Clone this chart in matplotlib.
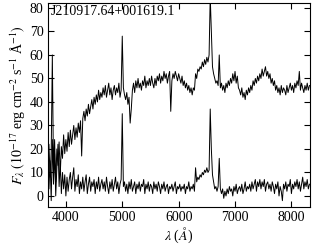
import numpy as np
import matplotlib
matplotlib.use("Agg")
import matplotlib.pyplot as plt

# wavelength grid (Angstrom), 20 A sampling
wave = np.arange(3680, 8321, 20)

# upper spectrum (one row = 200 A)
flux_top = [
    14, 22, 8, 19, 60, 11, 24, 6, 20, 13,
    23, 9, 21, 16, 26, 18, 24, 19, 27, 21,
    28, 22, 26, 30, 24, 29, 25, 31, 27, 32,
    17, 33, 36, 32, 37, 34, 39, 35, 38, 41,
    37, 42, 39, 43, 40, 45, 41, 44, 42, 46,
    43, 47, 42, 45, 48, 43, 46, 41, 45, 47,
    43, 46, 44, 48, 42, 45, 68, 46, 43, 41,
    44, 39, 42, 31, 37, 45, 48, 44, 49, 46,
    50, 46, 48, 45, 49, 47, 51, 46, 49, 47,
    50, 47, 51, 48, 46, 50, 47, 51, 49, 52,
    48, 51, 49, 53, 50, 52, 48, 51, 53, 36,
    49, 52, 50, 53, 51, 49, 52, 50, 48, 51,
    47, 49, 46, 48, 45, 47, 44, 46, 43, 46,
    45, 52, 50, 54, 53, 55, 54, 57, 55, 58,
    56, 59, 57, 60, 85, 70, 55, 52, 50, 48,
    49, 47, 60, 46, 48, 45, 47, 44, 48, 46,
    49, 47, 50, 48, 52, 49, 53, 48, 51, 46,
    45, 43, 46, 42, 44, 41, 45, 43, 46, 44,
    47, 45, 49, 47, 50, 48, 51, 49, 52, 50,
    54, 51, 53, 55, 51, 53, 50, 52, 48, 50,
    47, 49, 45, 47, 44, 46, 43, 47, 44, 46,
    45, 43, 47, 44, 46, 48, 45, 47, 44, 48,
    46, 49, 47, 53, 45, 48, 46, 44, 47, 45,
    48, 45, 47,
]

# lower spectrum
flux_bot = [
    20, 3, 15, -2, 24, 5, 18, 0, 12, 22,
    4, 14, 1, 10, 3, 9, 0, 8, 2, 7,
    10, 3, 8, 12, 2, 7, 4, 9, 1, 6,
    3, 8, 2, 6, 9, 1, 5, 8, 2, 6,
    4, 7, 1, 6, 3, 8, 2, 5, 7, 3,
    6, 2, 8, 4, 1, 6, 3, 7, 2, 5,
    8, 3, 6, 1, 5, 7, 35, 4, 6, 2,
    5, 1, 6, 3, 7, 2, 4, 6, 1, 5,
    3, 6, 2, 5, 4, 7, 1, 5, 3, 6,
    2, 5, 4, 1, 6, 3, 5, 2, 6, 4,
    1, 5, 3, 6, 2, 4, 5, 1, 4, 3,
    5, 2, 4, 6, 1, 4, 3, 5, 2, 4,
    3, 5, 1, 4, 3, 6, 2, 4, 3, 5,
    2, 12, 6, 8, 7, 9, 8, 10, 9, 11,
    10, 12, 10, 11, 37, 20, 9, 6, 3, 4,
    2, 4, 16, 3, 1, 3, -1, 2, 0, 3,
    1, 4, 2, 3, 0, 4, 2, 5, 1, 3,
    4, 2, 5, 1, 3, 6, 2, 4, 3, 5,
    2, 6, 3, 5, 7, 2, 6, 4, 7, 3,
    6, 4, 7, 2, 5, 6, 3, 5, 2, 6,
    4, 1, 5, 3, 6, 0, 4, 2, -2, 5,
    3, 6, 2, 5, 4, 7, 1, 5, 3, 6,
    4, 7, 3, 6, 2, 5, 8, 3, 6, 4,
    7, 3, 5,
]

xticks = [4000, 5000, 6000, 7000, 8000]
yticks = [0, 10, 20, 30, 40, 50, 60, 70, 80]
name = "J210917.64+001619.1"

plt.rcParams["font.family"] = ["Liberation Serif", "DejaVu Serif"]
plt.rcParams["mathtext.fontset"] = "stix"

fig = plt.figure(figsize=(3.17, 2.5), dpi=100)
ax = fig.add_axes([0.150, 0.172, 0.828, 0.815])

ax.plot(wave, flux_top, color="black", lw=0.7)
ax.plot(wave, flux_bot, color="black", lw=0.7)

ax.set_xlim(3675, 8330)
ax.set_ylim(-4.7, 82)
ax.set_xticks(xticks)
ax.set_yticks(yticks)
ax.tick_params(direction="in", top=True, right=True, length=4.5,
               width=0.8, labelsize=10, pad=3)
for sp in ax.spines.values():
    sp.set_linewidth(0.8)

ax.text(0.012, 0.99, name, transform=ax.transAxes, va="top", ha="left",
        fontsize=10)
ax.set_xlabel(r"$\lambda$ ($Å$)", fontsize=10, labelpad=1)
ax.set_ylabel(r"$F_\lambda$ $(10^{-17}$ erg cm$^{-2}$ s$^{-1}$ Å$^{-1})$",
              fontsize=10, labelpad=1)

fig.savefig("out.png", dpi=100)
